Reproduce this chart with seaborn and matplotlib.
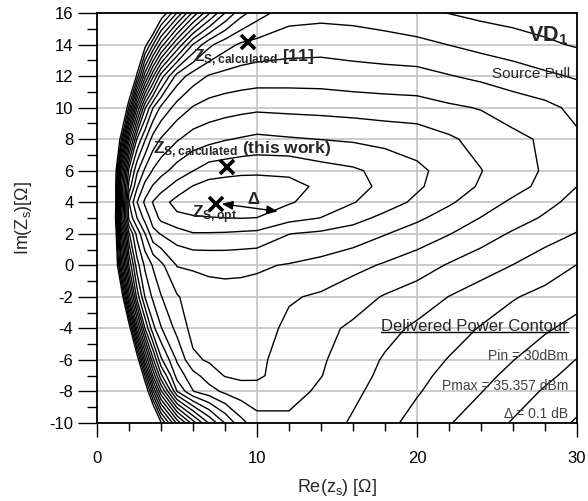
import numpy as np
import matplotlib
matplotlib.use("Agg")
import matplotlib.pyplot as plt
from matplotlib.lines import Line2D
import seaborn as sns
from matplotlib.ticker import MultipleLocator, FixedLocator

# ---------------- data ----------------
RE_OHM = [0, 1, 1.5, 2, 2.5, 3, 3.5, 4, 5, 6, 7, 8, 9, 10, 12, 14, 16, 18, 20, 22, 24, 26, 28, 30]
IM_OHM = [-10, -8, -7, -6, -4, -2, 0, 2, 3, 4, 5, 6, 8, 10, 12, 14, 16]

# delivered-power drop below Pmax [dB], one row per IM_OHM value, one column per RE_OHM value
POWER_DROP_DB = [
    [2.5, 2.5, 2.5, 2.5, 2.5, 2.5, 2.5, 2.118, 1.675, 1.35, 1.092, 0.896, 0.734, 0.64, 0.625, 0.655, 0.712, 0.773, 0.833, 0.894, 0.951, 1.008, 1.06, 1.11],
    [2.5, 2.5, 2.5, 2.5, 2.5, 2.287, 1.82, 1.425, 0.902, 0.705, 0.64, 0.58, 0.546, 0.536, 0.56, 0.62, 0.68, 0.738, 0.792, 0.845, 0.897, 0.955, 1.01, 1.06],
    [2.5, 2.5, 2.5, 2.5, 2.5, 1.99, 1.485, 1.125, 0.76, 0.636, 0.553, 0.495, 0.48, 0.485, 0.545, 0.597, 0.663, 0.723, 0.777, 0.824, 0.873, 0.925, 0.98, 1.03],
    [2.5, 2.5, 2.5, 2.5, 2.214, 1.645, 1.225, 0.92, 0.688, 0.52, 0.488, 0.485, 0.48, 0.485, 0.53, 0.588, 0.65, 0.71, 0.757, 0.805, 0.85, 0.898, 0.95, 1.003],
    [2.5, 2.5, 2.5, 2.204, 1.555, 1.1, 0.83, 0.707, 0.569, 0.465, 0.455, 0.455, 0.455, 0.455, 0.522, 0.575, 0.616, 0.67, 0.718, 0.762, 0.806, 0.847, 0.888, 0.93],
    [2.5, 2.5, 2.27, 1.55, 1.06, 0.795, 0.68, 0.605, 0.51, 0.45, 0.43, 0.425, 0.425, 0.428, 0.49, 0.514, 0.56, 0.608, 0.648, 0.702, 0.748, 0.793, 0.827, 0.865],
    [2.5, 2.5, 1.785, 1.19, 0.843, 0.68, 0.59, 0.525, 0.395, 0.389, 0.383, 0.381, 0.384, 0.39, 0.406, 0.43, 0.47, 0.512, 0.554, 0.609, 0.656, 0.702, 0.753, 0.802],
    [2.5, 2.5, 1.515, 0.915, 0.667, 0.502, 0.33, 0.294, 0.246, 0.206, 0.207, 0.21, 0.218, 0.225, 0.298, 0.32, 0.344, 0.395, 0.444, 0.496, 0.555, 0.612, 0.66, 0.705],
    [2.5, 2.5, 1.22, 0.675, 0.502, 0.363, 0.255, 0.175, 0.124, 0.114, 0.107, 0.101, 0.098, 0.102, 0.166, 0.202, 0.266, 0.326, 0.383, 0.442, 0.503, 0.558, 0.612, 0.665],
    [2.5, 2.5, 1.36, 0.602, 0.402, 0.28, 0.194, 0.14, 0.065, 0.03, 0.01, 0.002, 0.01, 0.03, 0.09, 0.144, 0.195, 0.256, 0.32, 0.387, 0.453, 0.517, 0.573, 0.63],
    [2.5, 2.5, 1.325, 0.76, 0.515, 0.367, 0.29, 0.24, 0.16, 0.095, 0.06, 0.045, 0.04, 0.045, 0.07, 0.118, 0.168, 0.222, 0.286, 0.349, 0.411, 0.466, 0.527, 0.6],
    [2.5, 2.5, 1.47, 0.86, 0.62, 0.48, 0.39, 0.335, 0.26, 0.202, 0.15, 0.139, 0.126, 0.121, 0.121, 0.16, 0.185, 0.23, 0.28, 0.335, 0.397, 0.46, 0.51, 0.58],
    [2.5, 2.5, 2.035, 1.33, 0.89, 0.71, 0.56, 0.492, 0.41, 0.357, 0.332, 0.307, 0.292, 0.278, 0.291, 0.302, 0.313, 0.33, 0.344, 0.385, 0.434, 0.475, 0.515, 0.585],
    [2.5, 2.5, 2.5, 1.975, 1.41, 1.015, 0.802, 0.68, 0.56, 0.493, 0.46, 0.444, 0.43, 0.42, 0.427, 0.433, 0.442, 0.452, 0.459, 0.485, 0.506, 0.548, 0.575, 0.624],
    [2.5, 2.5, 2.5, 2.5, 2.065, 1.64, 1.32, 1.05, 0.76, 0.65, 0.592, 0.569, 0.557, 0.548, 0.544, 0.545, 0.557, 0.563, 0.568, 0.595, 0.622, 0.65, 0.682, 0.71],
    [2.5, 2.5, 2.5, 2.5, 2.5, 2.15, 1.905, 1.66, 1.295, 0.995, 0.827, 0.738, 0.685, 0.665, 0.644, 0.637, 0.648, 0.662, 0.674, 0.702, 0.73, 0.755, 0.783, 0.81],
    [2.5, 2.5, 2.5, 2.5, 2.5, 2.5, 2.5, 2.21, 1.895, 1.575, 1.315, 1.1, 0.935, 0.845, 0.74, 0.73, 0.735, 0.75, 0.78, 0.802, 0.825, 0.84, 0.855, 0.87],
]

PMAX_DBM = 35.357
PIN_DBM = 30
DELTA_DB = 0.1
N_CONTOURS = 21

Z_OPT = (7.45, 3.9)
Z_CALC_THIS = (8.1, 6.25)
Z_CALC_REF = (9.46, 14.14)
DELTA_ARROW_END = (11.3, 3.42)

X_MAJOR = [0, 10, 20, 30]
Y_MAJOR = list(range(-10, 17, 2))

# ---------------- style ----------------
sns.set_theme(style="ticks")
plt.rcParams["font.family"] = ["Liberation Sans", "DejaVu Sans"]
plt.rcParams["mathtext.fontset"] = "custom"
plt.rcParams["mathtext.rm"] = "Liberation Sans"
plt.rcParams["mathtext.it"] = "Liberation Sans:italic"
plt.rcParams["mathtext.bf"] = "Liberation Sans:bold"
plt.rcParams["axes.unicode_minus"] = False

fig = plt.figure(figsize=(5.88, 5.01), dpi=100)
ax = fig.add_axes([97 / 588, 78 / 501, 480 / 588, 410 / 501])

ax.grid(True, which="major", color="#c8c8c8", lw=1.3, zorder=0)
ax.set_axisbelow(True)

# contours
X, Y = np.meshgrid(RE_OHM, IM_OHM)
P = PMAX_DBM - np.array(POWER_DROP_DB)
levels = PMAX_DBM - DELTA_DB * np.arange(N_CONTOURS, 0, -1)
ax.contour(X, Y, P, levels=levels, colors="black", linewidths=1.0, zorder=2)

# markers
for pt in (Z_OPT, Z_CALC_THIS, Z_CALC_REF):
    ax.plot([pt[0]], [pt[1]], marker="x", ms=10, mew=2.6, color="black", ls="none", zorder=4)

# delta arrow
ax.annotate("", xy=DELTA_ARROW_END, xytext=(Z_OPT[0] + 0.35, Z_OPT[1]),
            arrowprops=dict(arrowstyle="<|-|>,head_length=0.55,head_width=0.22",
                            color="black", lw=1.0, shrinkA=0, shrinkB=0), zorder=4)
ax.text(9.8, 4.15, "Δ", fontsize=12, fontweight="bold", ha="center", va="center", zorder=5)

# annotations
ax.text(6.0, 12.91, r"$\mathbf{Z}_{\mathbf{S,calculated}}$ [11]", fontsize=12.5,
        fontweight="bold", ha="left", va="baseline", zorder=5)
ax.text(3.5, 7.1, r"$\mathbf{Z}_{\mathbf{S,calculated}}$ (this work)", fontsize=12.5,
        fontweight="bold", ha="left", va="baseline", zorder=5)
ax.text(5.92, 2.98, r"$\mathbf{Z}_{\mathbf{S,opt}}$", fontsize=12.5,
        fontweight="bold", ha="left", va="baseline", zorder=5)
ax.text(29.45, 14.18, r"$\mathbf{VD}_{\mathbf{1}}$", fontsize=15.5,
        ha="right", va="baseline", zorder=5)
ax.text(29.55, 12.13, "Source Pull", fontsize=11, ha="right", va="center", zorder=5)
title_txt = ax.text(29.46, -3.91, "Delivered Power Contour", fontsize=12,
                    ha="right", va="center", zorder=5)
ax.text(29.46, -5.75, f"Pin = {PIN_DBM}dBm", fontsize=10, color="#404040",
        ha="right", va="center", zorder=5)
ax.text(29.46, -7.68, f"Pmax = {PMAX_DBM} dBm", fontsize=10, color="#404040",
        ha="right", va="center", zorder=5)
ax.text(29.46, -9.43, f"Δ = {DELTA_DB} dB", fontsize=10, color="#404040",
        ha="right", va="center", zorder=5)

# axes
ax.set_xlim(0, 30)
ax.set_ylim(-10, 16)
ax.xaxis.set_major_locator(FixedLocator(X_MAJOR))
ax.xaxis.set_minor_locator(MultipleLocator(2))
ax.yaxis.set_major_locator(FixedLocator(Y_MAJOR))
ax.yaxis.set_minor_locator(MultipleLocator(1))
ax.tick_params(axis="both", which="both", direction="out", colors="black", width=1.0)
ax.tick_params(axis="x", which="major", length=10, pad=10, labelsize=12)
ax.tick_params(axis="x", which="minor", length=6)
ax.tick_params(axis="y", which="major", length=14, pad=3, labelsize=12)
ax.tick_params(axis="y", which="minor", length=7)
for s in ax.spines.values():
    s.set_visible(True)
    s.set_color("black")
    s.set_linewidth(1.3)

ax.set_xlabel(r"Re(z$_\mathrm{s}$) [Ω]", fontsize=13, labelpad=8)
ax.set_ylabel(r"Im(Z$_\mathrm{s}$)[Ω]", fontsize=13, labelpad=11)

# underline for the contour-panel title
fig.canvas.draw()
bb = title_txt.get_window_extent(renderer=fig.canvas.get_renderer())
inv = fig.transFigure.inverted()
(x0, y0), (x1, _) = inv.transform([(bb.x0, bb.y0 + 2), (bb.x1, bb.y0 + 2)])
fig.add_artist(Line2D([x0, x1], [y0, y0], color="black", lw=1.0, zorder=6))

fig.savefig("out.png", dpi=100)
